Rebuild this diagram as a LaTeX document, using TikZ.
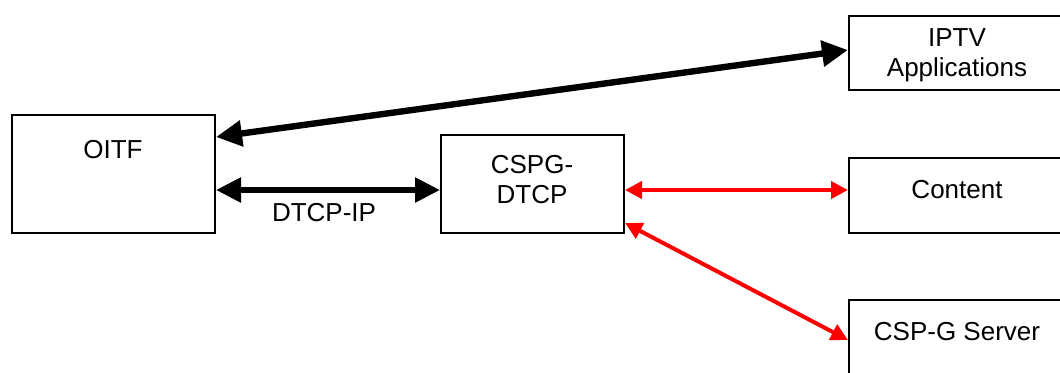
\documentclass[tikz,border=0pt]{standalone}
\usepackage{fontspec}
\setmainfont{Liberation Sans}
\usetikzlibrary{arrows.meta,calc}
\begin{document}
\begin{tikzpicture}[x=0.5pt,y=-0.5pt,
  box/.style={draw,line width=1pt,inner sep=0pt,anchor=center},
  txt/.style={inner sep=0pt,align=center,font=\fontsize{13}{15}\selectfont},
  blk/.style={line width=3.2pt,{Triangle[length=13pt,width=12.5pt]}-{Triangle[length=13pt,width=12.5pt]}},
  blkb/.style={line width=2.8pt,{Triangle[length=12.5pt,width=12pt]}-{Triangle[length=12.5pt,width=12pt]}},
  redarr/.style={red,line width=2pt,{Triangle[length=8.5pt,width=8.5pt]}-{Triangle[length=8.5pt,width=8.5pt]}}]
\useasboundingbox (0,0) rectangle (1060,372);
% boxes
\node[box,minimum width=101.5pt,minimum height=59pt] (oitf) at (113.5,174) {};
\node[box,minimum width=91.5pt,minimum height=49pt] (cspg) at (532.5,184) {};
\node[box,minimum width=108pt,minimum height=37pt] (iptv) at (957,53) {};
\node[box,minimum width=108pt,minimum height=37.5pt] (content) at (957,195.5) {};
\node[box,minimum width=108pt,minimum height=37.5pt] (cspgs) at (957,337.5) {};
% texts
\node[txt] (toitf) at (113,150) {OITF};
\node[txt] (tcspg) at (532,180) {CSPG-\\DTCP};
\node[txt] (tiptv) at (957,55) {IPTV\\Applications};
\node[txt] (tcontent) at (957,190) {Content};
\node[txt] (tcspgs) at (957,332) {CSP-G Server};
\node[txt] (tdtcp) at (324,213) {DTCP-IP};
% connectors
\draw[blk] ($(oitf.east)+(0,-37)$) -- ($(iptv.west)+(0,-3)$);
\draw[blkb] ($(oitf.east)+(0,16)$) -- ($(cspg.west)+(0,6)$);
\draw[redarr] ($(cspg.east)+(0,6)$) -- ($(content.west)+(0,-5.5)$);
\draw[redarr] ($(cspg.east)+(0,39)$) -- ($(cspgs.west)+(0,2.5)$);
\end{tikzpicture}
\end{document}
